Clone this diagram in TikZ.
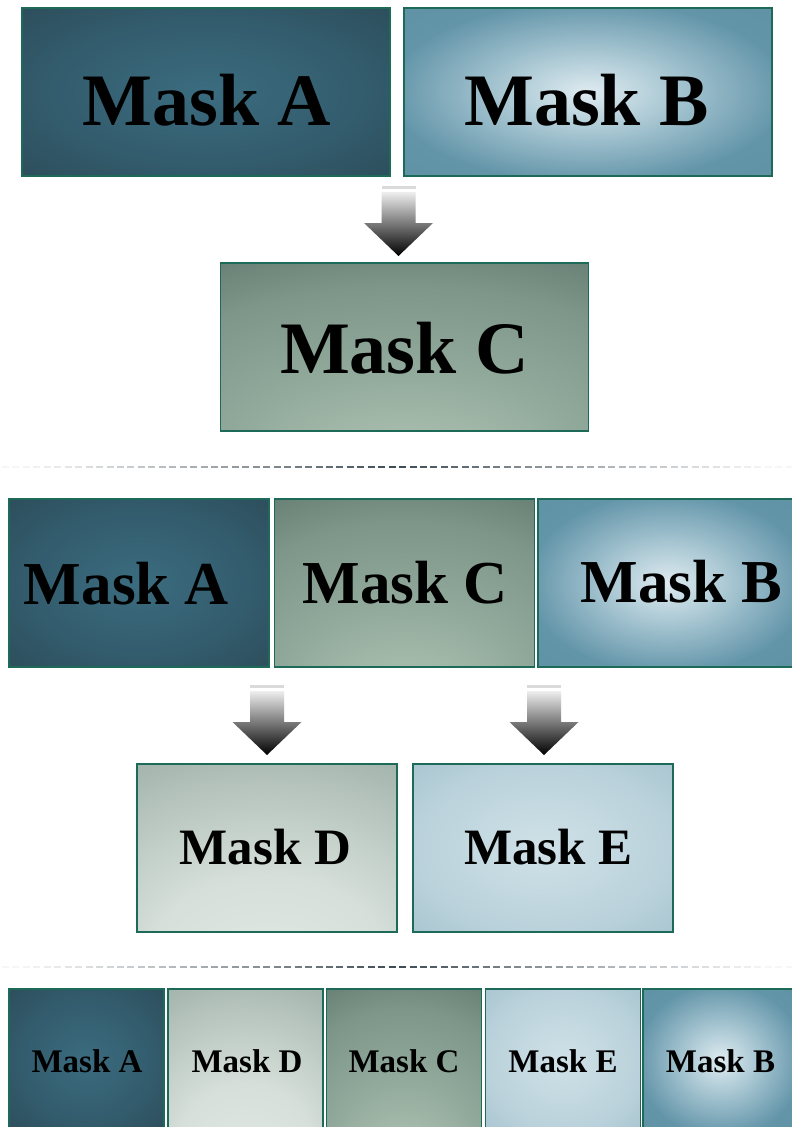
\documentclass[tikz,border=0pt]{standalone}
\usepackage{fontspec}
\setmainfont{Liberation Serif}
\usetikzlibrary{calc}

% palette
\definecolor{maskedge}{HTML}{1D6A58}
\definecolor{aIn}{HTML}{3B6C7F}
\definecolor{aMid}{HTML}{335D6E}
\definecolor{aOut}{HTML}{2C4A57}
\definecolor{aEdge}{HTML}{273E49}
\definecolor{bIn}{HTML}{DFEBF0}
\definecolor{bMid}{HTML}{B0CCD7}
\definecolor{bOut}{HTML}{6395A9}
\definecolor{bEdge}{HTML}{56899D}
\definecolor{cIn}{HTML}{BACCBC}
\definecolor{cMid}{HTML}{93AB9D}
\definecolor{cOut}{HTML}{7D9689}
\definecolor{cDark}{HTML}{5D736A}
\definecolor{cEdge}{HTML}{485C55}
\definecolor{dIn}{HTML}{E5EBE7}
\definecolor{dMid}{HTML}{D6DFDA}
\definecolor{dOut}{HTML}{B6C4BD}
\definecolor{dDark}{HTML}{97ABA3}
\definecolor{dEdge}{HTML}{83988F}
\definecolor{eIn}{HTML}{D0E1E7}
\definecolor{eMid}{HTML}{BAD2DB}
\definecolor{eOut}{HTML}{9CBCC9}
\definecolor{eEdge}{HTML}{88ACBB}
\definecolor{arrowtop}{HTML}{EEEEEE}
\definecolor{arrowmid}{HTML}{626262}
\definecolor{stripecol}{HTML}{DADADA}
\definecolor{slate}{HTML}{3B4850}

% soft glows for the mask panels
\pgfdeclareradialshading{glowA}{\pgfpoint{0bp}{0bp}}{%
  color(0bp)=(aIn); color(20bp)=(aMid); color(40bp)=(aOut); color(65bp)=(aEdge)}
\pgfdeclareradialshading{glowB}{\pgfpoint{0bp}{0bp}}{%
  color(0bp)=(bIn); color(10bp)=(bMid); color(27bp)=(bOut); color(65bp)=(bEdge)}
\pgfdeclareradialshading{glowC}{\pgfpoint{0bp}{-45bp}}{%
  color(0bp)=(cIn); color(22bp)=(cMid); color(38bp)=(cOut); color(52bp)=(cDark); color(68bp)=(cEdge)}
\pgfdeclareradialshading{glowD}{\pgfpoint{0bp}{-45bp}}{%
  color(0bp)=(dIn); color(22bp)=(dMid); color(38bp)=(dOut); color(52bp)=(dDark); color(68bp)=(dEdge)}
\pgfdeclareradialshading{glowE}{\pgfpoint{0bp}{0bp}}{%
  color(0bp)=(eIn); color(24bp)=(eMid); color(45bp)=(eOut); color(65bp)=(eEdge)}

\tikzset{
  mask/.style={draw=maskedge, line width=1.4pt, shade, inner sep=0pt, outer sep=0pt},
  maskA/.style={mask, shading=glowA},
  maskB/.style={mask, shading=glowB},
  maskC/.style={mask, shading=glowC},
  maskD/.style={mask, shading=glowD},
  maskE/.style={mask, shading=glowE},
  wide/.style={minimum width=368pt, minimum height=168pt},
  mid/.style={minimum width=260pt, minimum height=168pt},
  narrow/.style={minimum width=155pt, minimum height=142pt},
  txtXL/.style={font=\fontsize{74}{84}\selectfont\bfseries, text=black},
  txtL/.style={font=\fontsize{61}{70}\selectfont\bfseries, text=black},
  txtM/.style={font=\fontsize{51}{60}\selectfont\bfseries, text=black},
  txtS/.style={font=\fontsize{33}{40}\selectfont\bfseries, text=black},
  downarrow/.pic={
    \fill[stripecol] (-17,0) rectangle (17,3);
    \shade[top color=arrowtop, middle color=arrowmid, bottom color=black]
      (-17,6) -- (17,6) -- (17,37) -- (34.5,37) -- (0,70)
      -- (-34.5,37) -- (-17,37) -- cycle;
  },
}

\begin{document}
\begin{tikzpicture}[x=1pt, y=-1pt]
\useasboundingbox (0,0) rectangle (792,1127);
\clip (0,0) rectangle (792,1127);
\fill[white] (0,0) rectangle (792,1127);

% --- first combination: A and B give C
\node[maskA, wide, label={[txtXL, xshift=1pt, yshift=-8pt]center:Mask A}] (s1a) at (206,92) {};
\node[maskB, wide, label={[txtXL, xshift=-1.5pt, yshift=-8pt]center:Mask B}] (s1b) at (588,92) {};
\node[maskC, wide, label={[txtXL, yshift=-1pt]center:Mask C}] (s1c) at (404.5,347) {};
\pic at ($(s1a.south east)!0.5!(s1b.south west)+(1.5,10)$) {downarrow};

% separator
\foreach \k in {0,...,75}{
  \pgfmathsetmacro\xx{2+\k*10.45}
  \pgfmathtruncatemacro\pc{max(5,100*(1-abs(\xx+3.5-396)/410)^1.2)}
  \draw[line width=2pt, color=slate!\pc!white] (\xx,467) -- ++(7,0);
}

% --- second stage: A, C, B give D and E
\node[maskA, mid, label={[txtL, xshift=-12.5pt, yshift=-0.5pt]center:Mask A}] (s2a) at (139,583) {};
\node[maskC, mid, label={[txtL, xshift=0.5pt]center:Mask C}] (s2c) at (404.5,583) {};
\node[maskB, mid, label={[txtL, xshift=13.5pt, yshift=1pt]center:Mask B}] (s2b) at (668,583) {};
\node[maskD, mid, label={[txtM, xshift=-1.5pt, yshift=1pt]center:Mask D}] (s2d) at (267,848) {};
\node[maskE, mid, label={[txtM, xshift=5.5pt, yshift=1pt]center:Mask E}] (s2e) at (543,848) {};
\pic at ($(s2d.north)+(0,-79)$) {downarrow};
\pic at ($(s2e.north)+(1,-79)$) {downarrow};

% separator
\foreach \k in {0,...,75}{
  \pgfmathsetmacro\xx{2+\k*10.45}
  \pgfmathtruncatemacro\pc{max(5,100*(1-abs(\xx+3.5-396)/410)^1.2)}
  \draw[line width=2pt, color=slate!\pc!white] (\xx,967) -- ++(7,0);
}

% --- final ordering
\node[maskA, narrow, label={[txtS, xshift=0.5pt, yshift=-1pt]center:Mask A}] (s3a) at (86.5,1060) {};
\node[maskD, narrow, label={[txtS, xshift=1.5pt, yshift=-1pt]center:Mask D}] (s3d) at (245.5,1060) {};
\node[maskC, narrow, label={[txtS, yshift=-1pt]center:Mask C}] (s3c) at (404,1060) {};
\node[maskE, narrow, label={[txtS, yshift=-1pt]center:Mask E}] (s3e) at (563,1060) {};
\node[maskB, narrow, label={[txtS, yshift=-1pt]center:Mask B}] (s3b) at (720.5,1060) {};
\end{tikzpicture}
\end{document}
